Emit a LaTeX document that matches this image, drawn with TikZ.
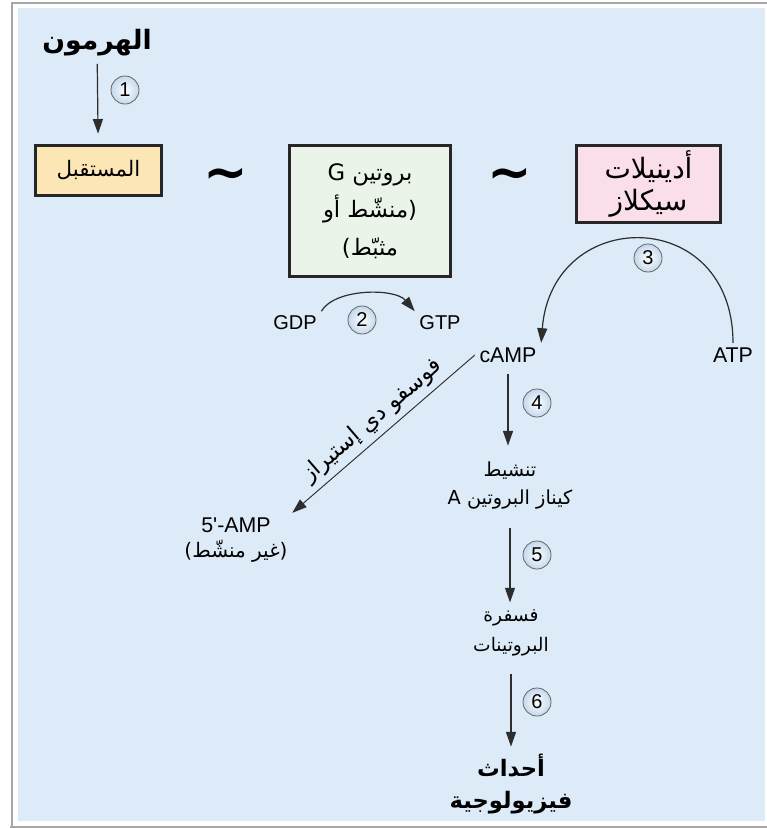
\documentclass[tikz,border=0pt]{standalone}
\usepackage{fontspec}
\setmainfont{Liberation Sans}
\newfontfamily\arabicfont[Script=Arabic]{DejaVu Sans}
\newfontfamily\symfont{DejaVu Sans}
\usetikzlibrary{arrows.meta}
\TeXXeTstate=1
\newcommand{\arw}[1]{{\arabicfont\beginR #1\endR}}

\definecolor{bgblue}{RGB}{221,234,247}
\definecolor{recyellow}{RGB}{253,230,182}
\definecolor{gpgreen}{RGB}{235,244,232}
\definecolor{acpink}{RGB}{250,222,234}
\definecolor{linegray}{RGB}{45,45,45}
\definecolor{circblue}{RGB}{196,216,236}

\begin{document}
\begin{tikzpicture}[x=0.75pt, y=-0.75pt,
  arr/.style={draw=linegray, line width=0.9pt, -{Triangle[length=11pt,width=7.5pt]}},
  stagebox/.style={draw=black!85, line width=2.2pt, align=center},
  numcirc/.style={circle, draw=black!60, line width=0.6pt, inner sep=0pt, minimum size=21pt,
    inner color=white, outer color=circblue, font=\fontsize{15}{15}\selectfont},
  tilde/.style={font=\fontsize{40}{40}\symfont\bfseries},
  lbl/.style={align=center, font=\fontsize{15}{18}\selectfont}]

% Frame and background
\useasboundingbox (0,0) rectangle (767,828);
\draw[black!35, line width=1.5pt] (12,828) -- (12,3) -- (767,3);
\draw[black!35, line width=1.5pt] (10,826.5) -- (767,826.5);
\fill[bgblue] (18,8) rectangle (765,821);

% Hormone and receptor
\node[lbl, font=\fontsize{20}{20}\selectfont\bfseries] (hormone) at (97,43) {\arw{الهرمون}};
\node[stagebox, fill=recyellow, minimum width=94pt, minimum height=37pt,
  font=\fontsize{16}{16}\selectfont] (receptor) at (98.5,170.5) {\arw{المستقبل}};
\draw[arr, shorten <=2pt, shorten >=8pt] (hormone) -- (receptor);
\node[numcirc] (c1) at (125,90) {1};

% Coupling signs
\node[tilde] (tildeA) at (226,179) {\textasciitilde};
\node[tilde] (tildeB) at (510,179) {\textasciitilde};

% G protein
\node[stagebox, fill=gpgreen, minimum width=121pt, minimum height=98pt,
  font=\fontsize{17}{28}\selectfont] (gprot) at (370,211)
  {\arw{بروتين G}\\\arw{(منشّط أو}\\\arw{مثبّط)}};

% Adenylyl cyclase
\node[stagebox, fill=acpink, minimum width=108pt, minimum height=58pt,
  font=\fontsize{21}{24}\selectfont] (acyc) at (648.5,184)
  {\arw{أدينيلات}\\\arw{سيكلاز}};

% GDP -> GTP exchange
\node[lbl] (gdp) at (295,323) {GDP};
\node[lbl] (gtp) at (440,323) {GTP};
\draw[arr] (gdp.north east) .. controls (335,288) and (395,288) .. (gtp.north west);
\node[numcirc] (c2) at (362,320) {2};

% ATP -> cAMP
\node[lbl, font=\fontsize{16}{18}\selectfont] (atp) at (733,355) {ATP};
\node[lbl, font=\fontsize{16}{18}\selectfont] (camp) at (508,355) {cAMP};
\draw[arr] (atp.north) .. controls (733,205) and (552,205) .. (camp.north east);
\node[numcirc] (c3) at (648,258) {3};

% Breakdown of cAMP
\node[lbl, font=\fontsize{16}{19}\selectfont] (amp) at (236,540)
  {5\textquotesingle-AMP\\{\fontsize{15}{15}\selectfont\arw{(غير منشّط)}}};
\draw[arr, line width=0.7pt] (camp.west) -- node[sloped, above, inner sep=4pt, font=\fontsize{17}{17}\selectfont]
  {\arw{فوسفو دي إستيراز}} (amp.north east);

% Kinase cascade
\node[lbl, font=\fontsize{14.5}{21}\selectfont] (pka) at (510,486)
  {\arw{تنشيط}\\\arw{كيناز البروتين A}};
\node[lbl, font=\fontsize{14}{22.5}\selectfont] (phos) at (511,633)
  {\arw{فسفرة}\\\arw{البروتينات}};
\node[lbl, font=\fontsize{17}{24}\selectfont\bfseries] (events) at (511,784)
  {\arw{أحداث}\\\arw{فيزيولوجية}};
\draw[arr, shorten <=5pt, shorten >=9pt] (camp.south) -- (camp.south |- pka.north);
\draw[arr, shorten <=10pt, shorten >=2pt] (pka.south) -- (pka.south |- phos.north);
\draw[arr, shorten <=10pt, shorten >=2pt] (phos.south) -- (phos.south |- events.north);
\node[numcirc] (c4) at (537,403) {4};
\node[numcirc] (c5) at (537,555) {5};
\node[numcirc] (c6) at (537,702) {6};

\end{tikzpicture}
\end{document}
